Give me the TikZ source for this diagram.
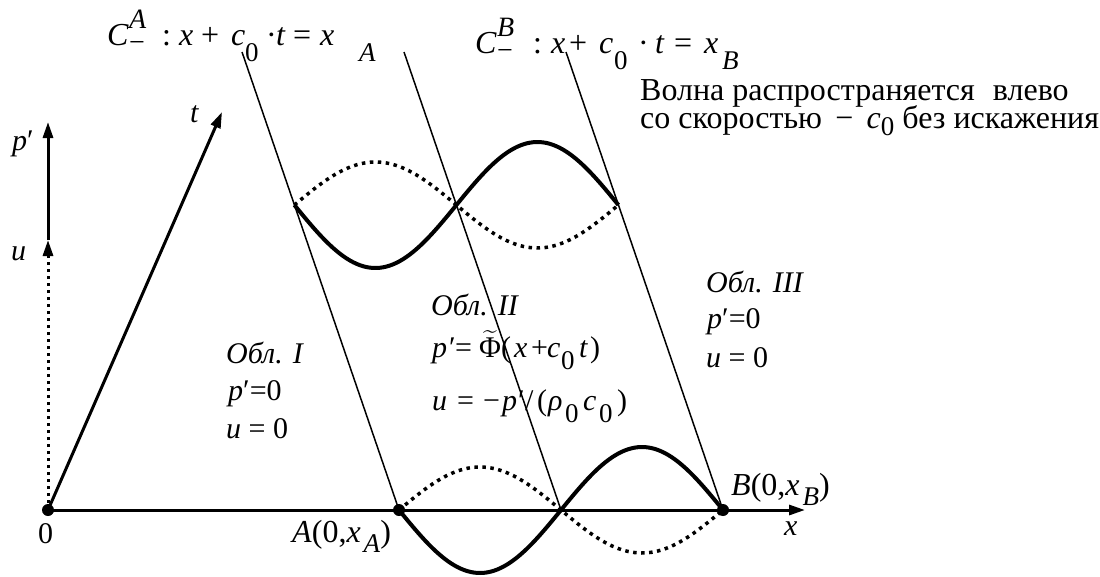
\documentclass[tikz,border=0pt]{standalone}
\usepackage{fontspec}
\usepackage{amsmath}
\setmainfont{Liberation Serif}
\usetikzlibrary{arrows.meta}
\newcommand{\ii}[1]{\textit{#1}}
\newcommand{\lo}[2][12pt]{\raisebox{-#1}{\fontsize{27}{27}\selectfont #2}}
\newcommand{\hi}[1]{\raisebox{17pt}{\fontsize{28}{28}\selectfont #1}}
\newcommand{\mn}{\raisebox{-6pt}{\fontsize{28}{28}\selectfont −}}
\newcommand{\at}[2]{\makebox[#1][l]{#2}}
\begin{document}
\begin{tikzpicture}[x=1pt,y=-1pt,
  txt/.style={font=\fontsize{30}{36}\selectfont, inner sep=0pt, anchor=base west},
  big/.style={txt, font=\fontsize{32}{36}\selectfont},
  axisline/.style={line width=3pt, -{Triangle[length=16pt,width=10pt]}},
  charline/.style={line width=1.5pt},
  wsolid/.style={line width=4pt},
  wdot/.style={line width=3.5pt, dash pattern=on 3.5pt off 4.5pt},
  dotaxis/.style={line width=3pt, dash pattern=on 3pt off 4pt, -{Triangle[length=16pt,width=10pt]}},
  pt/.style={circle, fill, inner sep=0pt, minimum size=12pt}]
\useasboundingbox (0,0) rectangle (1100,576);
% coordinates
\coordinate (O) at (48,510);
\coordinate (A) at (399,510);
\coordinate (M) at (561,510);
\coordinate (B) at (723,510);
\coordinate (Xend) at (805,510);
\coordinate (Ttip) at (222,112);
\coordinate (Utip) at (48,240);
\coordinate (Ptip) at (48,122);
\coordinate (A1) at (242,52);
\coordinate (M1) at (404,52);
\coordinate (B1) at (566,52);
% characteristics
\draw[charline] (A1) -- (A);
\draw[charline] (M1) -- (M);
\draw[charline] (B1) -- (B);
% axes
\draw[axisline] (O) -- (Xend);
\draw[axisline] (O) -- (Ttip);
\draw[dotaxis] (O) -- (Utip);
\draw[axisline] (Utip) -- (Ptip);
% waves
\draw[wsolid] plot[domain=0:324,samples=100,smooth] ({294.4+\x},{205+63*sin((\x/324)*360)});
\draw[wdot] plot[domain=0:324,samples=100,smooth] ({294.4+\x},{205-43*sin((\x/324)*360)});
\draw[wsolid] plot[domain=0:324,samples=100,smooth] ({399+\x},{510+63*sin((\x/324)*360)});
\draw[wdot] plot[domain=0:324,samples=100,smooth] ({399+\x},{510-43*sin((\x/324)*360)});
% points
\node[pt] (pO) at (O) {};
\node[pt] (pA) at (A) {};
\node[pt] (pB) at (B) {};
% labels
\node[txt] (lt) at (190,122) {\ii{t}};
\node[txt] (lp) at (12,150) {\ii{p}′};
\node[txt] (lu) at (11,260) {\ii{u}};
\node[txt] (l0) at (38,543) {0};
\node[big] (lA) at (292,542) {\ii{A}(0,\ii{x}\hspace{3pt}\lo[10pt]{\ii{A}})};
\node[big] (lB) at (731,495) {\ii{B}(0,\ii{x}\hspace{3pt}\lo[10pt]{\ii{B}})};
\node[txt] (lx) at (784,535) {\ii{x}};
% top formulas
\node[big] (fA) at (107,45) {\at{22pt}{\ii{C}}\at{33pt}{\rlap{\hi{\ii{A}}}\mn}\at{17pt}{:}\at{22pt}{\ii{x}}\at{30pt}{+}\at{14pt}{\ii{c}}\at{21pt}{\lo[16pt]{0}}\at{10pt}{·}\at{17pt}{\ii{t}}\at{27pt}{=}\at{39pt}{\ii{x}}\lo[16pt]{\ii{A}}};
\node[big] (fB) at (475,53) {\at{22pt}{\ii{C}}\at{36pt}{\rlap{\hi{\ii{B}}}\mn}\at{18pt}{:}\at{18pt}{\ii{x}}\at{30pt}{+}\at{15pt}{\ii{c}}\at{24pt}{\lo[16pt]{0}}\at{17pt}{·}\at{19pt}{\ii{t}}\at{30pt}{=}\at{18pt}{\ii{x}}\lo[16pt]{\ii{B}}};
% right text
\node[big] (w1) at (640,100) {Волна распространяется\hspace{18pt}влево};
\node[big] (w2) at (640,128) {со скоростью \,−\, \ii{c}\lo[7pt]{0} без искажения};
% regions
\node[txt] (r1a) at (226,363) {\ii{Обл. I}};
\node[txt] (r1b) at (228,400) {\ii{p}′=0};
\node[txt] (r1c) at (226,438) {\ii{u} = 0};
\node[txt] (r2a) at (431,315) {\ii{Обл. II}};
\node[txt] (r2b) at (432,357) {\at{17pt}{\ii{p}}\at{6pt}{′}\at{24pt}{=}\at{22pt}{$\widetilde{\text{Φ}}$}\at{13pt}{(}\at{17pt}{\ii{x}}\at{16pt}{+}\at{14pt}{\ii{c}}\at{18pt}{\lo{0}}\at{11pt}{\ii{t}})};
\node[txt] (r2c) at (432,410) {\at{25pt}{\ii{u}}\at{26pt}{=}\at{19pt}{−}\at{16pt}{\ii{p}}\at{7pt}{′}\at{12pt}{/}\at{11pt}{(}\at{17pt}{\ii{ρ}}\at{18pt}{\lo{0}}\at{16pt}{\ii{c}}\at{18pt}{\lo{0}})};
\node[txt] (r3a) at (706,292) {\ii{Обл. III}};
\node[txt] (r3b) at (707,328) {\ii{p}′=0};
\node[txt] (r3c) at (706,367) {\ii{u} = 0};
\end{tikzpicture}
\end{document}
